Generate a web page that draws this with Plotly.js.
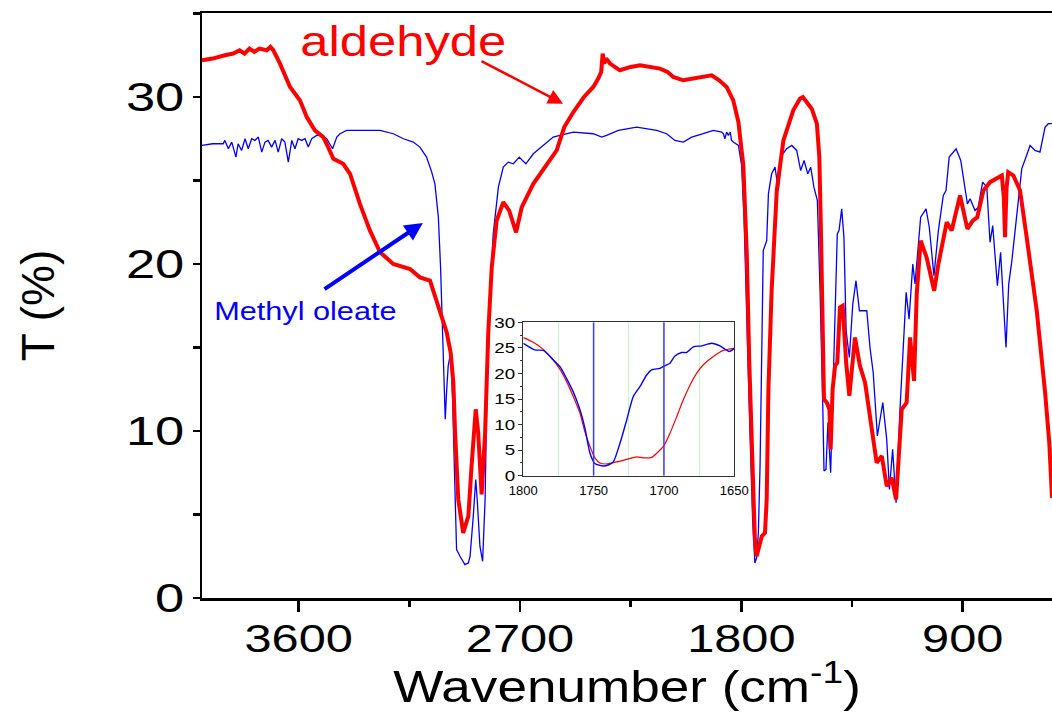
<!DOCTYPE html>
<html>
<head>
<meta charset="utf-8">
<script src="https://cdn.plot.ly/plotly-3.0.1.min.js"></script>
<style>html,body{margin:0;padding:0;background:#fff;}#chart{width:1052px;height:712px;}</style>
</head>
<body>
<div id="chart"></div>
<script>
// ---- main spectrum: aldehyde (red) ----
const aldehydeWn = [3993,3950,3900,3866,3840,3820,3800,3780,3760,3730,3715,3703,3676,3655,3635,3595,3567,3534,3500,3480,3459,3419,3391,3351,3310,3269,3215,3147,3107,3066,3039,3019,2998,2982,2971,2964,2951,2931,2910,2897,2880,2870,2856,2842,2829,2815,2795,2768,2744,2716,2693,2646,2592,2551,2520,2483,2440,2402,2382,2370,2364,2358,2350,2334,2294,2250,2212,2170,2131,2100,2077,2036,1996,1921,1890,1860,1833,1812,1792,1778,1768,1756,1745,1738,1730,1717,1704,1697,1690,1677,1656,1629,1589,1562,1550,1534,1514,1493,1483,1477,1469,1464,1453,1442,1437,1429,1419,1410,1399,1388,1374,1361,1338,1318,1297,1277,1264,1250,1229,1209,1189,1171,1148,1128,1114,1098,1087,1071,1047,1016,999,965,945,911,881,859,841,816,789,762,741,733,728,722,715,694,667,640,599,565,548,537];
const aldehydeT = [32.2,32.3,32.5,32.6,32.8,32.6,32.9,32.7,32.9,32.8,33.0,32.8,32.0,31.3,30.6,29.8,28.8,28.0,27.6,27.0,26.3,26.0,25.4,23.6,22.0,20.7,20.0,19.7,19.2,19.0,17.8,16.8,15.9,14.7,12.9,9.9,5.9,3.9,4.9,7.9,11.3,9.9,6.2,9.9,15.9,19.8,22.6,23.7,23.2,21.9,23.4,24.8,25.9,26.8,28.2,29.1,30.0,30.6,31.1,31.5,32.6,32.0,32.3,32.0,31.6,31.8,31.9,31.8,31.7,31.5,31.2,31.0,31.1,31.3,31.0,30.6,29.8,28.5,25.9,20.6,14.2,7.7,3.5,2.5,3.0,3.7,3.9,5.9,12.5,18.4,24.4,27.4,29.2,29.9,30.0,29.7,29.3,28.4,26.4,22.4,16.4,11.9,11.7,11.3,8.9,12.5,13.9,14.1,17.4,17.5,14.1,12.1,15.6,13.9,12.9,10.7,9.5,8.1,8.5,6.7,7.2,5.9,11.3,11.7,15.6,13.0,18.2,21.4,20.4,18.4,20.0,22.5,22.0,24.1,22.1,22.6,22.8,24.4,24.9,25.1,25.3,24.0,21.6,24.5,25.5,25.3,24.4,21.6,17.2,12.3,9.3,6.0];

// ---- main spectrum: methyl oleate (blue) ----
const oleateWn = [3993,3950,3907,3900,3886,3872,3855,3846,3832,3818,3805,3791,3778,3764,3750,3737,3724,3710,3696,3683,3669,3656,3642,3628,3615,3602,3588,3574,3561,3547,3527,3506,3486,3462,3445,3432,3405,3350,3269,3215,3174,3134,3107,3080,3059,3046,3032,3023,3014,3009,3004,2998,2992,2982,2974,2967,2958,2944,2924,2910,2903,2890,2880,2874,2863,2852,2842,2835,2822,2809,2788,2768,2748,2727,2703,2690,2676,2646,2605,2565,2538,2483,2402,2368,2348,2300,2226,2144,2104,2070,2036,2002,1955,1914,1880,1873,1867,1860,1853,1845,1840,1833,1812,1799,1789,1778,1765,1754,1745,1738,1731,1724,1717,1711,1697,1690,1677,1663,1650,1636,1616,1595,1575,1559,1545,1530,1518,1505,1491,1480,1469,1464,1456,1448,1437,1427,1418,1410,1403,1392,1383,1374,1361,1347,1334,1320,1307,1290,1277,1264,1247,1225,1209,1198,1185,1171,1155,1141,1130,1118,1103,1094,1071,1049,1036,1017,999,979,968,955,927,908,895,881,870,850,837,819,802,789,778,759,746,735,724,713,701,687,660,626,606,586,565,552,537];
const oleateT = [27.1,27.2,27.2,27.4,26.9,27.3,26.4,27.2,26.8,27.5,26.9,27.5,27.4,27.6,26.7,27.3,27.4,27.0,27.4,26.7,27.5,27.3,26.1,27.4,26.9,27.5,27.4,27.5,27.0,27.5,27.7,27.7,27.5,26.9,27.6,27.8,28.0,28.0,28.0,27.8,27.5,27.3,27.0,26.4,25.5,24.8,22.8,19.8,15.9,12.7,10.7,12.5,13.9,14.7,11.9,7.9,2.9,2.5,2.0,2.1,2.5,4.9,7.1,5.9,3.1,2.2,5.9,11.9,17.8,21.8,24.6,25.8,26.1,26.0,26.4,26.2,26.0,26.6,27.1,27.6,27.7,27.9,27.8,27.6,27.7,28.0,28.2,28.0,27.8,27.4,27.3,27.6,27.8,28.0,27.9,27.8,27.5,27.9,27.7,27.9,27.4,27.3,27.1,25.9,22.7,16.3,9.9,4.6,2.1,2.4,3.9,7.9,13.9,20.8,21.4,24.2,25.4,25.8,24.4,26.5,26.9,27.1,26.8,25.6,26.2,25.4,25.8,24.6,23.8,18.4,11.5,7.6,7.7,10.5,7.5,12.9,17.8,21.8,22.0,23.3,21.6,16.0,14.4,17.6,19.0,17.2,17.2,17.2,15.0,13.5,9.7,11.7,9.5,6.5,8.9,5.7,11.3,15.3,18.3,16.7,20.0,18.8,22.8,23.3,22.2,19.3,22.0,24.1,24.4,26.4,26.9,26.2,25.0,23.6,23.9,23.2,23.4,24.9,24.6,21.3,22.3,18.7,20.7,18.0,15.0,18.8,20.1,22.0,25.7,27.1,26.8,26.7,28.2,28.4,28.4];

// ---- inset (carbonyl region) ----
const insetAldWn = [1800,1792.9,1785.8,1779.9,1773.9,1769.2,1764.5,1759.7,1756.2,1752.6,1749.1,1745.5,1740.8,1733.6,1726.5,1719.4,1714.7,1708.8,1704.0,1699.8,1695.7,1691.0,1686.3,1681.5,1676.8,1672.0,1664.9,1657.8,1650];
const insetAldT  = [27.0,26.1,24.7,23.0,20.8,18.4,15.5,12.2,8.6,5.7,3.5,2.5,2.3,2.7,3.2,3.7,3.5,3.6,4.7,6.0,8.3,11.5,14.8,17.7,20.0,21.7,23.3,24.5,24.9];
const insetOleWn = [1800,1791.7,1785.8,1779.9,1773.9,1769.2,1764.5,1759.7,1756.2,1752.6,1749.1,1743.1,1739.6,1736.0,1731.3,1726.5,1721.8,1717.1,1712.3,1708.8,1702.8,1699.3,1695.7,1692.2,1687.4,1683.9,1679.1,1673.2,1666.1,1660.2,1653.6,1650];
const insetOleT  = [25.9,24.6,24.5,23.0,21.3,19.0,16.4,12.9,9.3,4.4,2.4,1.9,2.1,2.7,6.3,10.9,15.5,17.4,19.7,20.7,21.0,21.5,22.0,23.4,24.1,24.1,25.2,25.4,25.9,25.4,24.3,24.9];
const insetMarkWn = [1750, 1700];   // blue reference lines in the inset

// ---- tick values ----
const xTickVals = [3600, 2700, 1800, 900];
const yTickVals = [0, 10, 20, 30];
const insetXTicks = [1800, 1750, 1700, 1650];
const insetYTicks = [0, 5, 10, 15, 20, 25, 30];

const RED = '#ff0000', BLUE = '#0000ff';
const FONT = 'Liberation Sans, Arial, sans-serif';

const traces = [
  {x: oleateWn, y: oleateT, type: 'scatter', mode: 'lines', line: {color: BLUE, width: 1.3}, xaxis: 'x', yaxis: 'y', name: 'Methyl oleate'},
  {x: aldehydeWn, y: aldehydeT, type: 'scatter', mode: 'lines', line: {color: RED, width: 4}, xaxis: 'x', yaxis: 'y', name: 'aldehyde'},
  {x: insetAldWn, y: insetAldT, type: 'scatter', mode: 'lines', line: {color: RED, width: 1.2, shape: 'spline', smoothing: 0.6}, xaxis: 'x2', yaxis: 'y2'},
  {x: insetOleWn, y: insetOleT, type: 'scatter', mode: 'lines', line: {color: BLUE, width: 1.4, shape: 'spline', smoothing: 0.6}, xaxis: 'x2', yaxis: 'y2'}
];

const shapes = insetMarkWn.map(v => ({type: 'line', xref: 'x2', yref: 'y2', x0: v, x1: v, y0: 0, y1: 30, line: {color: '#3a3aff', width: 1.5}, layer: 'above'}));

const layout = {
  width: 1052, height: 712,
  margin: {l: 202, r: 0, t: 13, b: 114},
  paper_bgcolor: '#fff', plot_bgcolor: '#fff',
  showlegend: false,
  font: {family: FONT, color: '#000'},
  xaxis: {
    range: [3993, 537], tickvals: xTickVals, ticks: 'outside', ticklen: 11, tickwidth: 2.5, tickcolor: '#000',
    minor: {dtick: 450, tick0: 900, ticks: 'outside', ticklen: 6, tickwidth: 2.5, tickcolor: '#000'},
    showline: true, linewidth: 2.5, linecolor: '#000', mirror: true, showgrid: false, zeroline: false,
    tickfont: {size: 39, family: FONT}, ticklabelstandoff: -6,
    title: {text: 'Wavenumber (cm<sup>-1</sup>)', font: {size: 45, family: FONT}, standoff: 4}
  },
  yaxis: {
    range: [0, 35.03], tickvals: yTickVals, ticks: 'outside', ticklen: 7, tickwidth: 2.5, tickcolor: '#000',
    minor: {dtick: 5, tick0: 0, ticks: 'outside', ticklen: 7, tickwidth: 2.5, tickcolor: '#000'},
    showline: true, linewidth: 2.5, linecolor: '#000', showgrid: false, zeroline: false,
    tickfont: {size: 41, family: FONT},
    title: {text: 'T (%)', font: {size: 46, family: FONT}, standoff: 70}
  },
  xaxis2: {
    domain: [0.378, 0.6262], anchor: 'y2', range: [1800, 1650], tickvals: insetXTicks,
    showgrid: false,
    minor: {dtick: 25, tick0: 1800, showgrid: true, gridcolor: '#c6f5c6', gridwidth: 1},
    showline: true, linecolor: '#333', linewidth: 1.2, mirror: true, zeroline: false,
    ticks: '', tickfont: {size: 13, family: FONT}, ticklabelstandoff: 2
  },
  yaxis2: {
    domain: [0.209, 0.4713], anchor: 'x2', range: [0, 30], tickvals: insetYTicks,
    ticks: 'outside', ticklen: 4, tickwidth: 1, tickcolor: '#333',
    minor: {dtick: 2.5, ticks: 'outside', ticklen: 2, tickcolor: '#333'},
    showline: true, linecolor: '#333', linewidth: 1.2, mirror: true, showgrid: false, zeroline: false,
    tickfont: {size: 15, family: FONT}
  },
  shapes: shapes,
  annotations: [
    {x: 3172, y: 33.35, xref: 'x', yref: 'y', text: 'aldehyde', showarrow: false, font: {size: 43, color: RED, family: FONT}, xanchor: 'center', yanchor: 'middle'},
    {x: 3574, y: 17.2, xref: 'x', yref: 'y', text: 'Methyl oleate', showarrow: false, font: {size: 26, color: BLUE, family: FONT}, xanchor: 'center', yanchor: 'middle'},
    {x: 2525, y: 29.6, ax: 2863, ay: 32.2, xref: 'x', yref: 'y', axref: 'x', ayref: 'y', text: '', showarrow: true, arrowhead: 2, arrowsize: 1.2, arrowwidth: 2.5, arrowcolor: RED},
    {x: 3095, y: 22.46, ax: 3501, ay: 18.44, xref: 'x', yref: 'y', axref: 'x', ayref: 'y', text: '', showarrow: true, arrowhead: 2, arrowsize: 0.9, arrowwidth: 4, arrowcolor: BLUE}
  ]
};

// The reference lettering is horizontally wide; widen text glyphs about an anchor.
function widen(selector, sx, anchor) {
  document.querySelectorAll(selector).forEach(t => {
    if (!t.textContent.trim()) return;
    const b = t.getBBox();
    const ax = anchor === 'end' ? b.x + b.width : b.x + b.width / 2;
    const cur = t.getAttribute('transform') || '';
    t.setAttribute('transform', cur + ` translate(${ax},0) scale(${sx},1) translate(${-ax},0)`);
  });
}

Plotly.newPlot('chart', traces, layout, {staticPlot: true, displayModeBar: false}).then(() => {
  widen('.subplot.xy .xaxislayer-above text', 1.25, 'middle');
  widen('.subplot.xy .yaxislayer-above text', 1.28, 'end');
  widen('.subplot.x2y2 .yaxislayer-above text', 1.25, 'end');
  widen('text.xtitle', 1.18, 'middle');
  widen('.annotation-text', 1.18, 'middle');
});
</script>
</body>
</html>
